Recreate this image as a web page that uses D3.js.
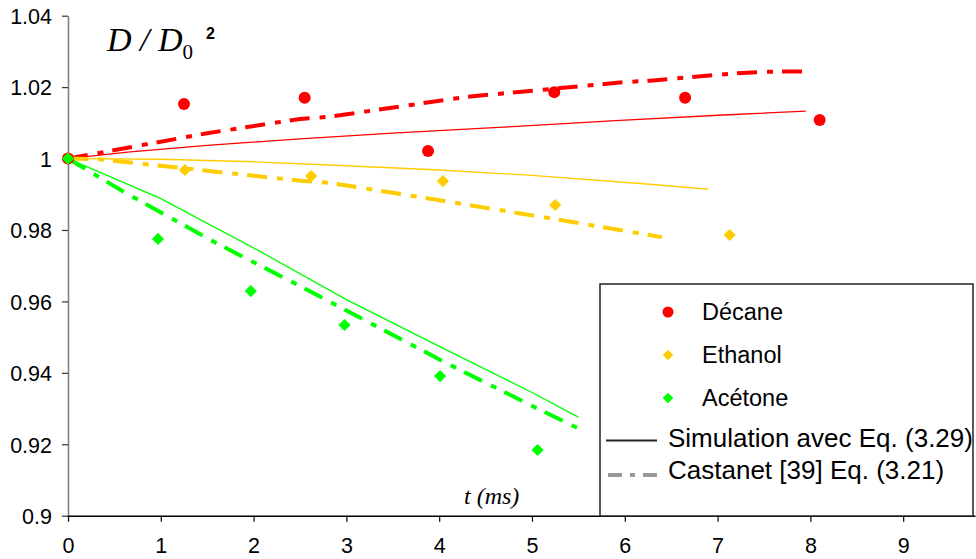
<!DOCTYPE html>
<html><head><meta charset="utf-8">
<script src="https://cdn.jsdelivr.net/npm/d3@7"></script>
<style>body{margin:0;background:#fff}svg{display:block}</style>
</head><body>
<svg id="c" width="976" height="559"></svg>
<script>
// ---- data ----
const xTicks = [0,1,2,3,4,5,6,7,8,9];
const yTicks = [0.9,0.92,0.94,0.96,0.98,1,1.02,1.04];

const decaneT = [0,1.25,2.55,3.88,5.24,6.65,8.1];
const decaneD = [1,1.0153,1.0170,1.0021,1.0186,1.0170,1.0108];
const ethanolT = [0,1.26,2.62,4.04,5.25,7.13];
const ethanolD = [1,0.9968,0.9951,0.9937,0.9870,0.9786];
const acetoneT = [0,0.97,1.97,2.98,4.01,5.06];
const acetoneD = [1,0.9775,0.9629,0.9534,0.9391,0.9184];

const simDecaneT = [0,0.64,1.5,2.5,3.5,4.69,5.95,7.06,7.95];
const simDecaneD = [1,1.0018,1.0037,1.0055,1.0071,1.0088,1.0107,1.0122,1.0133];
const simEthanolT = [0,1,2,2.82,4,5,6.27,6.9];
const simEthanolD = [1,0.9998,0.9991,0.9982,0.9968,0.9953,0.9928,0.9914];
const simAcetoneT = [0,0.99,2.07,3,4.04,5,5.5];
const simAcetoneD = [1,0.9889,0.9740,0.9605,0.9469,0.9345,0.9276];

const casDecaneT = [0,1.5,2.5,2.82,4.3,6.0,6.27,7.2,7.5,7.91];
const casDecaneD = [1,1.0071,1.0111,1.0117,1.0173,1.0214,1.0218,1.0239,1.0243,1.0244];
const casEthanolT = [0,0.34,1.42,2.5,2.82,3.94,5.19,6.4];
const casEthanolD = [1,0.9998,0.9968,0.9938,0.9932,0.9886,0.9833,0.9780];
const casAcetoneT = [0,0.6,1.6,2.5,4.08,5.09,5.51];
const casAcetoneD = [1,0.9907,0.9763,0.9643,0.9427,0.9296,0.9243];

const legendNames = ["Décane","Ethanol","Acétone"];
const legendLines = ["Simulation avec Eq. (3.29)","Castanet [39] Eq. (3.21)"];

// ---- drawing ----
const RED="#ff0000", YEL="#ffcc00", GRN="#00ff00";
const svg = d3.select("#c");
const x = d3.scaleLinear().domain([0,9.774]).range([68,975]);
const y = d3.scaleLinear().domain([0.9,1.04]).range([515.7,15.7]);
const font = "Liberation Sans, Arial, sans-serif";

// y axis
const ya = svg.append("g").attr("transform","translate(68,0)")
  .call(d3.axisLeft(y).tickValues(yTicks).tickSize(6).tickSizeOuter(0)
    .tickFormat(d=>String(+d.toFixed(2))));
ya.select(".domain").attr("stroke","#808080").attr("stroke-width",1.6);
ya.selectAll(".tick line").attr("stroke","#333").attr("stroke-width",1.2);
ya.selectAll(".tick text").attr("font-family",font).attr("font-size",21.5)
  .attr("fill","#000").attr("x",-16).attr("dy","0.36em");

// x axis
const xa = svg.append("g").attr("transform","translate(0,515.7)")
  .call(d3.axisBottom(x).tickValues(xTicks).tickSize(6).tickSizeOuter(0));
xa.select(".domain").attr("stroke","#000").attr("stroke-width",1.6);
xa.selectAll(".tick line").attr("stroke","#000").attr("stroke-width",1.2);
xa.selectAll(".tick text").attr("font-family",font).attr("font-size",21.5)
  .attr("fill","#000").attr("y",22).attr("dy","0.71em");

const line = d3.line().x(d=>x(d[0])).y(d=>y(d[1]));
const zip = (a,b)=>a.map((v,i)=>[v,b[i]]);

// simulation thin lines
[[simDecaneT,simDecaneD,RED],[simEthanolT,simEthanolD,YEL],[simAcetoneT,simAcetoneD,GRN]]
.forEach(([t,v,c])=>{
  svg.append("path").attr("d",line(zip(t,v))).attr("fill","none")
    .attr("stroke",c).attr("stroke-width",1.3);
});
// castanet dash-dot lines
const dash = "20,10,6,9";
[[casDecaneT,casDecaneD,RED],[casEthanolT,casEthanolD,YEL],[casAcetoneT,casAcetoneD,GRN]]
.forEach(([t,v,c])=>{
  svg.append("path").attr("d",line(zip(t,v))).attr("fill","none")
    .attr("stroke",c).attr("stroke-width",4).attr("stroke-dasharray",dash);
});

// markers
const diamond = d3.symbol(d3.symbolSquare, 74);
const diamondSmall = d3.symbol(d3.symbolSquare, 56);
zip(ethanolT,ethanolD).forEach(d=>{
  svg.append("path").attr("d",diamond()).attr("fill",YEL)
    .attr("transform",`translate(${x(d[0])},${y(d[1])}) rotate(45)`);
});
zip(acetoneT,acetoneD).forEach(d=>{
  svg.append("path").attr("d",diamond()).attr("fill",GRN)
    .attr("transform",`translate(${x(d[0])},${y(d[1])}) rotate(45)`);
});
zip(decaneT,decaneD).forEach((d,i)=>{
  svg.append("circle").attr("cx",x(d[0])).attr("cy",y(d[1])).attr("r",6).attr("fill",RED);
});
svg.append("path").attr("d",diamond()).attr("fill",GRN)
  .attr("transform",`translate(${x(acetoneT[0])},${y(acetoneD[0])}) rotate(45)`);

// axis titles
const yl = svg.append("text").attr("x",107).attr("y",51)
  .attr("font-family","Liberation Serif, Times New Roman, serif").attr("font-style","italic")
  .attr("font-size",34).attr("fill","#000");
yl.append("tspan").text("D / D");
yl.append("tspan").attr("font-size",21).attr("font-style","normal").attr("dy",8).text("0");
svg.append("text").attr("x",206).attr("y",39).attr("font-family",font).attr("font-weight","bold")
  .attr("font-size",16).text("2");
svg.append("text").attr("x",464).attr("y",504)
  .attr("font-family","Liberation Serif, Times New Roman, serif").attr("font-style","italic")
  .attr("font-size",24).text("t (ms)");

// legend
const lg = svg.append("g");
lg.append("rect").attr("x",600).attr("y",284).attr("width",373).attr("height",232)
  .attr("fill","#fff").attr("stroke","#222").attr("stroke-width",1.5);
const rowY = [312,355,398];
lg.append("circle").attr("cx",668).attr("cy",rowY[0]).attr("r",5.5).attr("fill",RED);
lg.append("path").attr("d",diamondSmall()).attr("fill",YEL)
  .attr("transform",`translate(668,${rowY[1]}) rotate(45)`);
lg.append("path").attr("d",diamondSmall()).attr("fill",GRN)
  .attr("transform",`translate(668,${rowY[2]}) rotate(45)`);
legendNames.forEach((n,i)=>{
  lg.append("text").attr("x",702).attr("y",rowY[i]).attr("dy","0.36em")
    .attr("font-family",font).attr("font-size",23.5).text(n);
});
lg.append("line").attr("x1",606).attr("x2",657).attr("y1",440.5).attr("y2",440.5)
  .attr("stroke","#222").attr("stroke-width",1.8);
lg.append("line").attr("x1",608).attr("x2",657).attr("y1",475).attr("y2",475)
  .attr("stroke","#999").attr("stroke-width",4).attr("stroke-dasharray","14,8,5,8");
legendLines.forEach((n,i)=>{
  lg.append("text").attr("x",668).attr("y",[438,470][i]).attr("dy","0.36em")
    .attr("font-family",font).attr("font-size",26).text(n);
});
</script>
</body></html>
